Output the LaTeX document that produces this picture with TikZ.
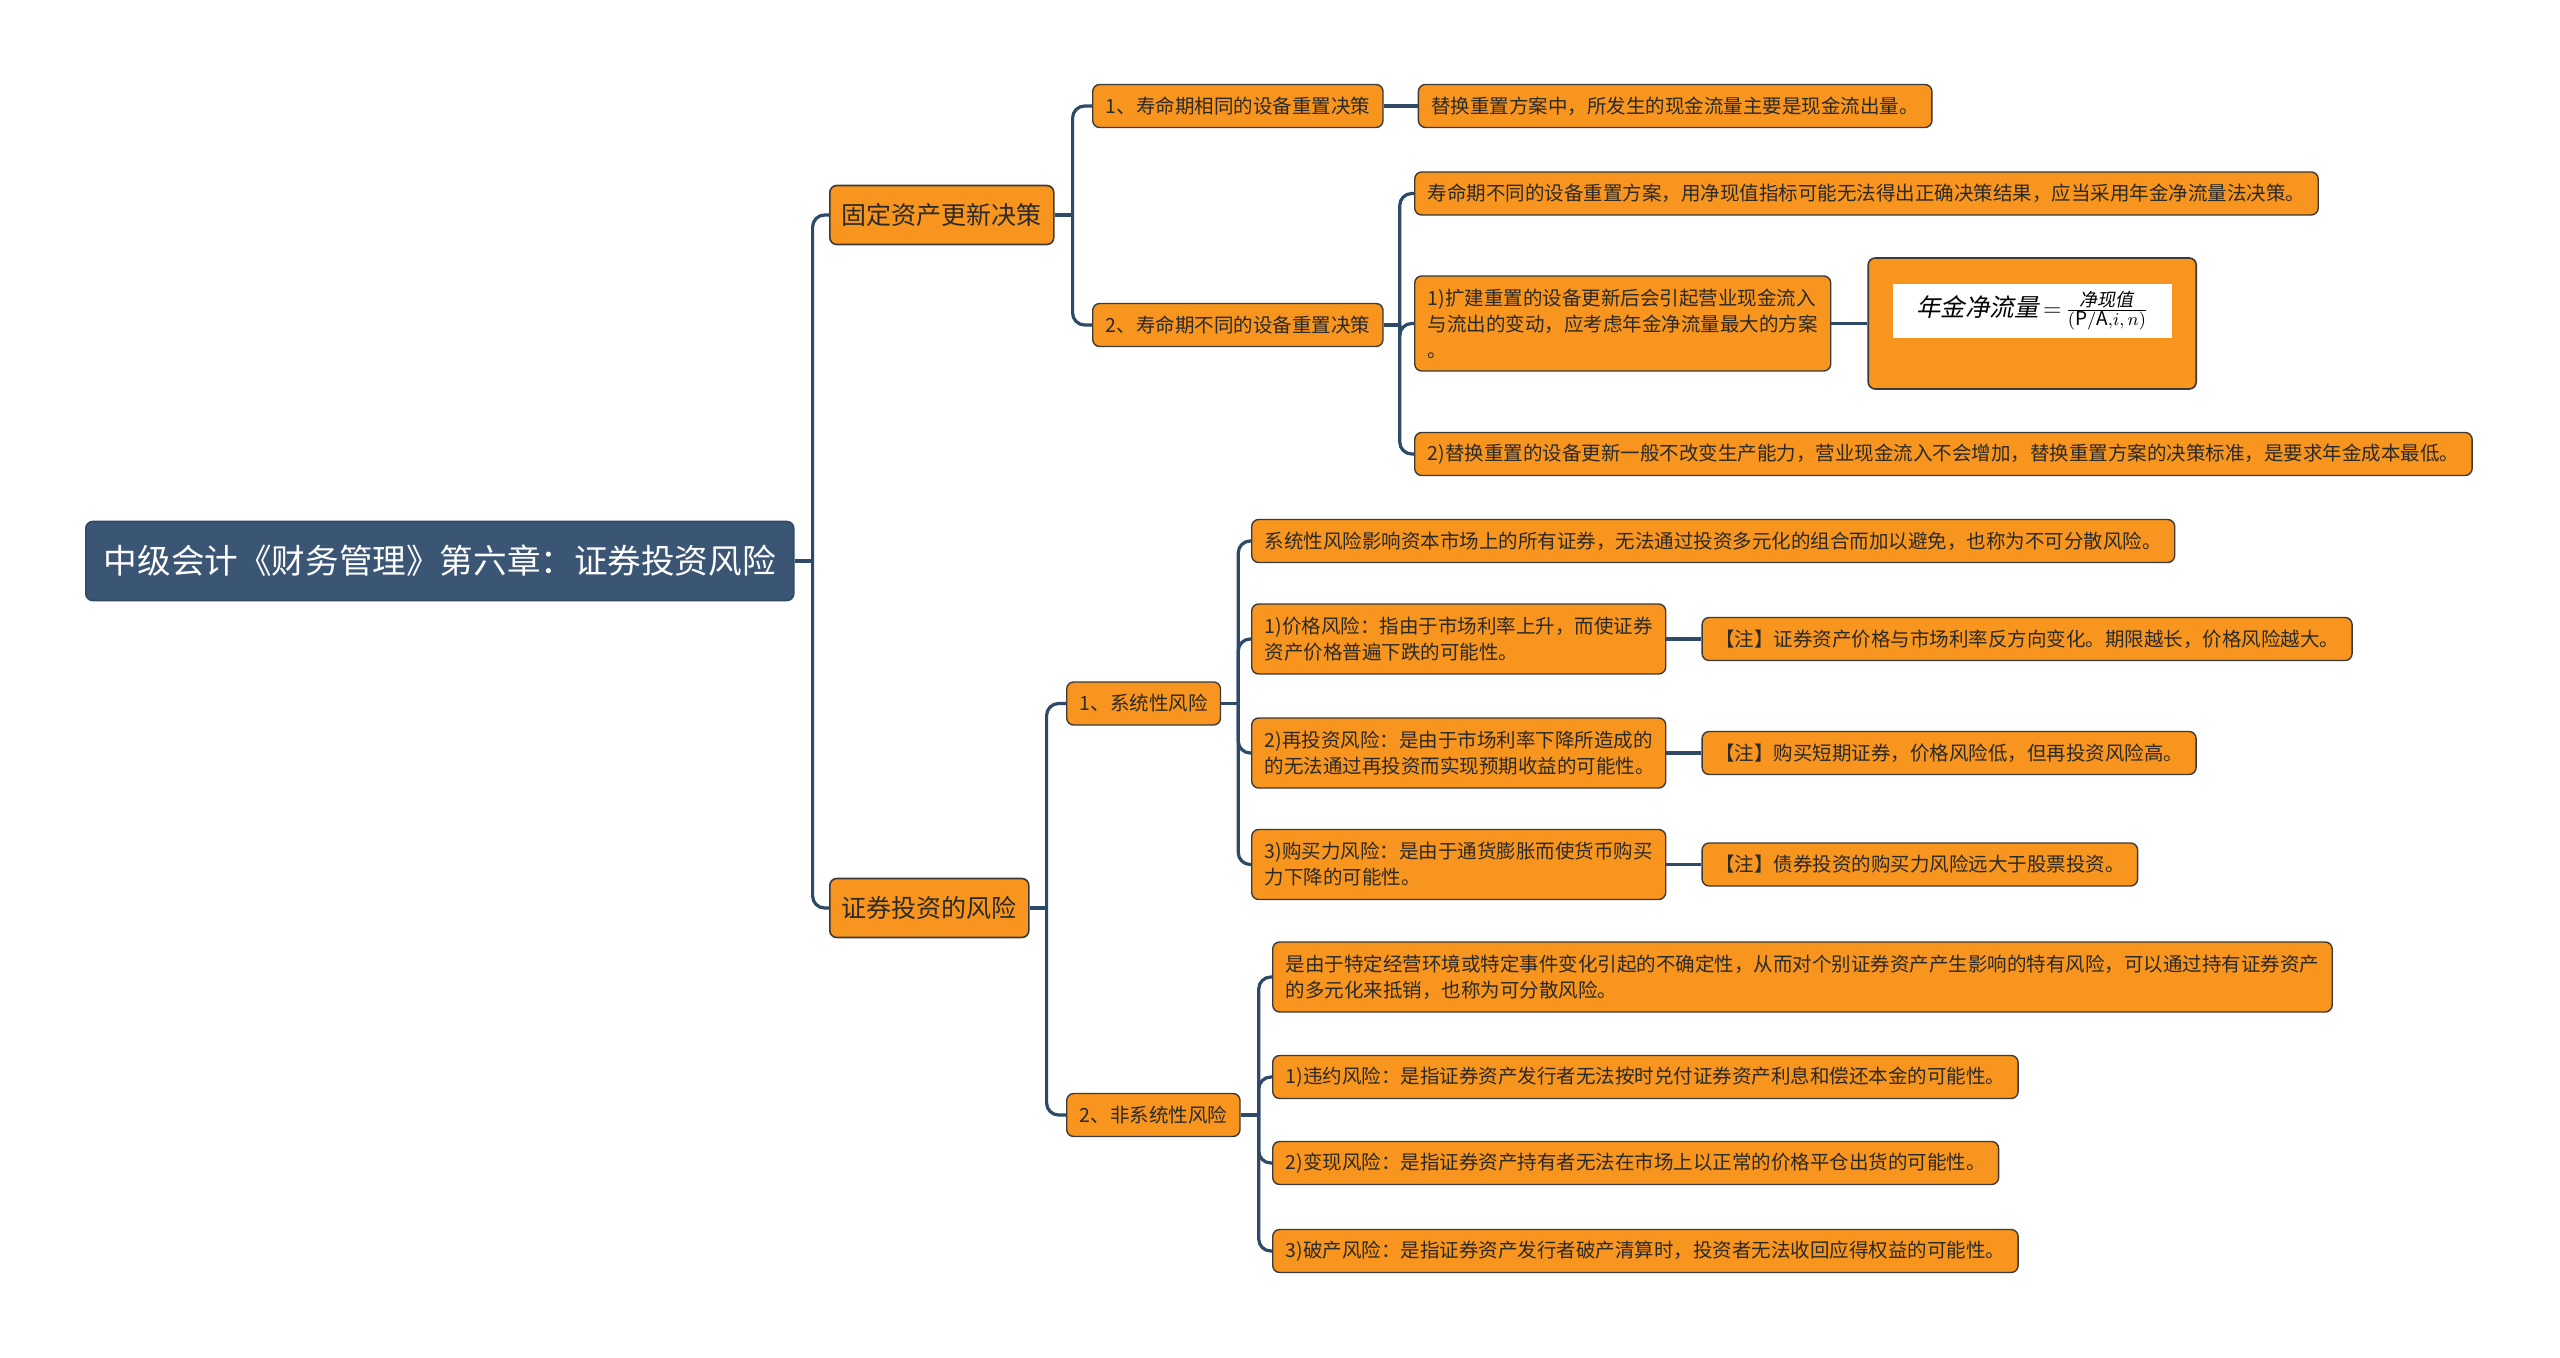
\documentclass[tikz,border=0pt]{standalone}
\usepackage{fontspec}
\setmainfont{Noto Sans CJK SC}
\newfontfamily\fmlfont[FakeSlant=0.2]{Noto Sans CJK SC}
\usepackage{tikz}
\usetikzlibrary{positioning,calc}
\definecolor{rootblue}{HTML}{3B5674}
\definecolor{linkblue}{HTML}{2E4A68}
\definecolor{topicorg}{HTML}{F7951E}
\definecolor{edgegrey}{HTML}{3A3A3A}
\definecolor{inktext}{HTML}{2A2A2A}
\tikzset{
  rootbox/.style={rectangle, rounded corners=3.5pt, draw=rootblue!85!black, line width=0.8pt, fill=rootblue,
                  text=white, font=\fontsize{16.8}{20}\selectfont, minimum height=39.5pt, inner xsep=9pt, anchor=west},
  mainbox/.style={rectangle, rounded corners=3.5pt, draw=edgegrey, line width=0.8pt, fill=topicorg,
                  text=inktext, font=\fontsize{12.5}{15}\selectfont, minimum height=29.5pt, inner xsep=6pt, anchor=west},
  leafbox/.style={rectangle, rounded corners=3.5pt, draw=edgegrey, line width=0.7pt, fill=topicorg,
                  text=inktext, font=\fontsize{9.75}{13}\selectfont, align=left, minimum height=21.5pt,
                  inner xsep=6.5pt, anchor=west},
  twoline/.style={minimum height=35pt},
  fmlbox/.style={rectangle, rounded corners=3.5pt, draw=edgegrey, line width=0.8pt, fill=topicorg,
                 minimum width=164pt, minimum height=65.5pt},
  link/.style={draw=linkblue, line width=1.6pt, rounded corners=6pt},
}
\begin{document}
\begin{tikzpicture}[x=0.5pt, y=-0.5pt, node distance=17pt]
  \fill[white] (0,0) rectangle (2560,1358);
  \useasboundingbox (0,0) rectangle (2560,1358);
  % root and main topics
  \node[rootbox] (root) at (85,561) {中级会计《财务管理》第六章：证券投资风险};
  \node[mainbox] (gd) at (829,215) {固定资产更新决策};
  \node[mainbox] (zq) at (829,908) {证券投资的风险};
  % fixed assets
  \node[leafbox] (s1) at (1092,106) {1、寿命期相同的设备重置决策};
  \node[leafbox, right=of s1] (n1) {替换重置方案中，所发生的现金流量主要是现金流出量。};
  \node[leafbox] (s2) at (1092,325) {2、寿命期不同的设备重置决策};
  \node[leafbox] (d1) at (1414,193.5) {寿命期不同的设备重置方案，用净现值指标可能无法得出正确决策结果，应当采用年金净流量法决策。};
  \node[leafbox, minimum height=47.5pt] (d2) at (1414,323.5) {1)扩建重置的设备更新后会引起营业现金流入\\与流出的变动，应考虑年金净流量最大的方案\\。};
  \node[fmlbox, right=18pt of d2] (fml) {};
  \node[fill=white, minimum width=139.5pt, minimum height=27pt, inner sep=0pt, anchor=north] (fmlin)
    at ($(fml.north)+(0,26)$)
    {\fontsize{12.3}{14}\selectfont{\fmlfont 年金净流量}\,$=$\,$\frac{\mbox{\fmlfont\fontsize{9}{10}\selectfont\ 净现值\ }}{\mbox{\fontsize{9.5}{10}\selectfont$\mathrm{(P/A,}i,n\mathrm{)}$}}$};
  \node[leafbox] (d3) at (1414,454) {2)替换重置的设备更新一般不改变生产能力，营业现金流入不会增加，替换重置方案的决策标准，是要求年金成本最低。};
  % securities risk
  \node[leafbox] (x1) at (1066,703.5) {1、系统性风险};
  \node[leafbox] (x2) at (1066,1115) {2、非系统性风险};
  \node[leafbox] (a0) at (1251,541) {系统性风险影响资本市场上的所有证券，无法通过投资多元化的组合而加以避免，也称为不可分散风险。};
  \node[leafbox, twoline, text width=194pt] (a1) at (1251,639) {1)价格风险：指由于市场利率上升，而使证券\\资产价格普遍下跌的可能性。};
  \node[leafbox, twoline, text width=194pt] (a2) at (1251,753) {2)再投资风险：是由于市场利率下降所造成的\\的无法通过再投资而实现预期收益的可能性。};
  \node[leafbox, twoline, text width=194pt] (a3) at (1251,864.5) {3)购买力风险：是由于通货膨胀而使货币购买\\力下降的可能性。};
  \node[leafbox, right=17.5pt of a1] (c1) {【注】证券资产价格与市场利率反方向变化。期限越长，价格风险越大。};
  \node[leafbox, right=17.5pt of a2] (c2) {【注】购买短期证券，价格风险低，但再投资风险高。};
  \node[leafbox, right=17.5pt of a3] (c3) {【注】债券投资的购买力风险远大于股票投资。};
  \node[leafbox, twoline] (b0) at (1272,977) {是由于特定经营环境或特定事件变化引起的不确定性，从而对个别证券资产产生影响的特有风险，可以通过持有证券资产\\的多元化来抵销，也称为可分散风险。};
  \node[leafbox] (b1) at (1272,1077) {1)违约风险：是指证券资产发行者无法按时兑付证券资产利息和偿还本金的可能性。};
  \node[leafbox] (b2) at (1272,1163) {2)变现风险：是指证券资产持有者无法在市场上以正常的价格平仓出货的可能性。};
  \node[leafbox] (b3) at (1272,1251) {3)破产风险：是指证券资产发行者破产清算时，投资者无法收回应得权益的可能性。};
  % branch points
  \coordinate (r0) at ($(root.east)+(18,0)$);
  \coordinate (g0) at ($(gd.east)+(18,0)$);
  \coordinate (z0) at ($(zq.east)+(17,0)$);
  \coordinate (t2) at ($(s2.east)+(16,0)$);
  \coordinate (k1) at ($(x1.east)+(17,0)$);
  \coordinate (k2) at ($(x2.east)+(18,0)$);
  % connectors
  \draw[link] (root.east) -- (r0);
  \foreach \c in {gd,zq} \draw[link] (r0) |- (\c.west);
  \draw[link] (gd.east) -- (g0);
  \foreach \c in {s1,s2} \draw[link] (g0) |- (\c.west);
  \draw[link] (s1) -- (n1);
  \draw[link] (s2.east) -- (t2);
  \foreach \c in {d1,d2,d3} \draw[link] (t2) |- (\c.west);
  \draw[link] (d2) -- (fml);
  \draw[link] (zq.east) -- (z0);
  \foreach \c in {x1,x2} \draw[link] (z0) |- (\c.west);
  \draw[link] (x1.east) -- (k1);
  \foreach \c in {a0,a1,a2,a3} \draw[link] (k1) |- (\c.west);
  \foreach \i in {1,2,3} \draw[link] (a\i) -- (c\i);
  \draw[link] (x2.east) -- (k2);
  \foreach \c in {b0,b1,b2,b3} \draw[link] (k2) |- (\c.west);
\end{tikzpicture}
\end{document}
